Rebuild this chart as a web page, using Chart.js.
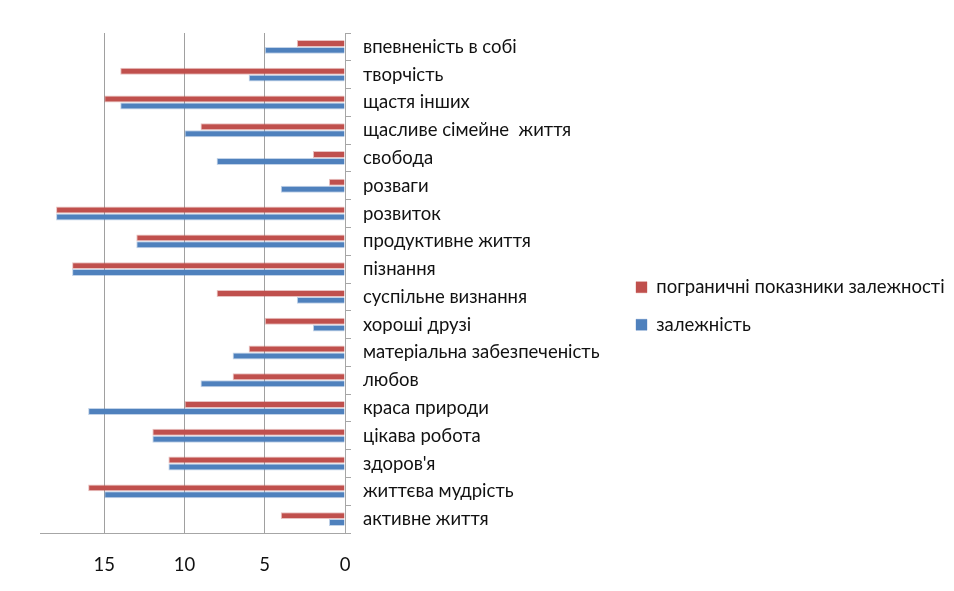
<!DOCTYPE html>
<html>
<head>
<meta charset="utf-8">
<script src="https://cdn.jsdelivr.net/npm/chart.js@4.4.1/dist/chart.umd.min.js"></script>
<style>
    html, body { margin: 0; padding: 0; background: #fff; }
    #wrap { width: 954px; height: 591px; position: relative; }
</style>
</head>
<body>
<div id="wrap"><canvas id="chart"></canvas></div>
<script>
// цінності (зверху вниз, як на діаграмі)
const categories = [
    'впевненість в собі',
    'творчість',
    'щастя інших',
    'щасливе сімейне  життя',
    'свобода',
    'розваги',
    'розвиток',
    'продуктивне життя',
    'пізнання',
    'суспільне визнання',
    'хороші друзі',
    'матеріальна забезпеченість',
    'любов',
    'краса природи',
    'цікава робота',
    'здоров\'я',
    'життєва мудрість',
    'активне життя'
];

const borderlineValues = [3, 14, 15, 9, 2, 1, 18, 13, 17, 8, 5, 6, 7, 10, 12, 11, 16, 4];
const dependenceValues = [5, 6, 14, 10, 8, 4, 18, 13, 17, 3, 2, 7, 9, 16, 12, 11, 15, 1];

const seriesNames = ['пограничні показники залежності', 'залежність'];
const xTicks = [0, 5, 10, 15];
const xMax = 19;

const FONT = 'Lato, "Open Sans", sans-serif';
const FONT_SIZE = 18.5;

// легенда праворуч: ширину в розкладці фіксуємо, а потім зсуваємо блок вліво,
// щоб довгий підпис не обрізався
const legendShift = {
    id: 'legendShift',
    afterLayout(chart) {
        const lg = chart.legend;
        if (!lg) return;
        lg.left = 617;
        lg.right = 954;
        lg.width = lg.right - lg.left;
        lg.top -= 6;
        lg.bottom -= 6;
    }
};

const ctx = document.getElementById('chart').getContext('2d');
new Chart(ctx, {
    type: 'bar',
    data: {
        labels: categories,
        datasets: [{
            label: seriesNames[0],
            data: borderlineValues,
            backgroundColor: '#C0504D',
            borderColor: 'rgba(192,80,77,0.35)',
            borderWidth: 1,
            barPercentage: 1,
            categoryPercentage: 0.5
        }, {
            label: seriesNames[1],
            data: dependenceValues,
            backgroundColor: '#4F81BD',
            borderColor: 'rgba(79,129,189,0.35)',
            borderWidth: 1,
            barPercentage: 1,
            categoryPercentage: 0.5
        }]
    },
    plugins: [legendShift],
    options: {
        indexAxis: 'y',
        responsive: true,
        maintainAspectRatio: false,
        animation: false,
        layout: {
            padding: { top: 33, left: 40, right: 6, bottom: 0 }
        },
        plugins: {
            tooltip: { enabled: false },
            legend: {
                position: 'right',
                maxWidth: 200,
                labels: {
                    color: '#111',
                    font: { family: FONT, size: FONT_SIZE },
                    boxWidth: 11,
                    boxHeight: 11,
                    padding: 19
                }
            }
        },
        scales: {
            x: {
                reverse: true,
                min: 0,
                max: xMax,
                afterBuildTicks: axis => {
                    axis.ticks = xTicks.map(v => ({ value: v }));
                },
                afterFit: axis => { axis.height = 58; },
                border: { display: true, color: '#a6a6a6', width: 1 },
                grid: {
                    color: ctx => (ctx.tick && ctx.tick.value === 0) ? 'rgba(0,0,0,0)' : '#a0a0a0',
                    drawTicks: false
                },
                ticks: {
                    color: '#111',
                    font: { family: FONT, size: FONT_SIZE },
                    padding: 21
                }
            },
            y: {
                position: 'right',
                afterFit: axis => { axis.width = 403; },
                border: { display: true, color: '#a6a6a6', width: 1 },
                grid: {
                    drawOnChartArea: false,
                    color: '#a6a6a6',
                    tickLength: 6
                },
                ticks: {
                    color: '#111',
                    font: { family: FONT, size: FONT_SIZE },
                    padding: 12
                }
            }
        }
    }
});
</script>
</body>
</html>
